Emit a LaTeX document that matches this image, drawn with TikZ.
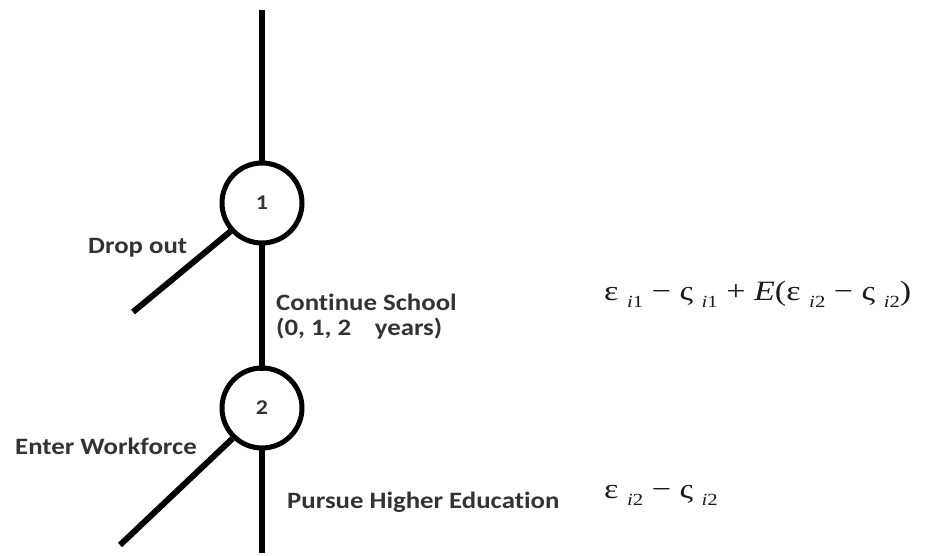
\documentclass[tikz,border=0pt]{standalone}
\usepackage{fontspec}
\setmainfont{Carlito}
\newfontfamily\lblfont[FakeStretch=1.14,Ligatures=NoCommon]{Carlito}
\newfontfamily\formfont[FakeStretch=1.22]{Liberation Serif}
\definecolor{txt}{HTML}{333333}
\definecolor{ftxt}{HTML}{1A1A1A}
\newcommand{\lowsub}[1]{\raisebox{-7pt}{\fontsize{17}{17}\selectfont\textit{i}#1}}
\begin{document}
\begin{tikzpicture}[x=1pt,y=-1pt,
  decision/.style={circle,draw=black,line width=5pt,minimum size=80pt,inner sep=0pt,font=\lblfont\bfseries\fontsize{21}{21}\selectfont,text=txt},
  branch/.style={line width=6pt,black},
  lbl/.style={font=\lblfont\bfseries\fontsize{23.5}{25}\selectfont,text=txt,inner sep=0pt,align=left,anchor=base west},
  form/.style={font=\formfont\fontsize{28}{30}\selectfont,text=ftxt,inner sep=0pt,anchor=base west}]
\useasboundingbox (0,0) rectangle (926,556);
\node[decision] (c1) at (262,203) {1};
\node[decision] (c2) at (262,408) {2};
\coordinate (top) at (262,10);
\coordinate (bot) at (262,553);
\coordinate (d1) at (133,312);
\coordinate (d2) at (120,545);
\draw[branch] (top) -- ([yshift=-5pt]c1.north);
\draw[branch] ([yshift=5pt]c1.south) -- ([yshift=-5pt]c2.north);
\draw[branch] ([yshift=5pt]c2.south) -- (bot);
\draw[branch] (c1.222) -- (d1);
\draw[branch] (c2.226) -- (d2);
\node[lbl] (l1) at (88,253) {Drop out};
\node[lbl] (l2) at (276,335) {Continue School\\(0, 1, 2\hspace{0.75em} years)};
\node[lbl] (l3) at (15,454) {Enter Workforce};
\node[lbl] (l4) at (287,508) {Pursue Higher Education};
\node[form] (f1) at (604,300) {ε \lowsub{1} − ς \lowsub{1} + \textit{E}(ε \lowsub{2} − ς \lowsub{2})};
\node[form] (f2) at (604,498) {ε \lowsub{2} − ς \lowsub{2}};
\end{tikzpicture}
\end{document}
